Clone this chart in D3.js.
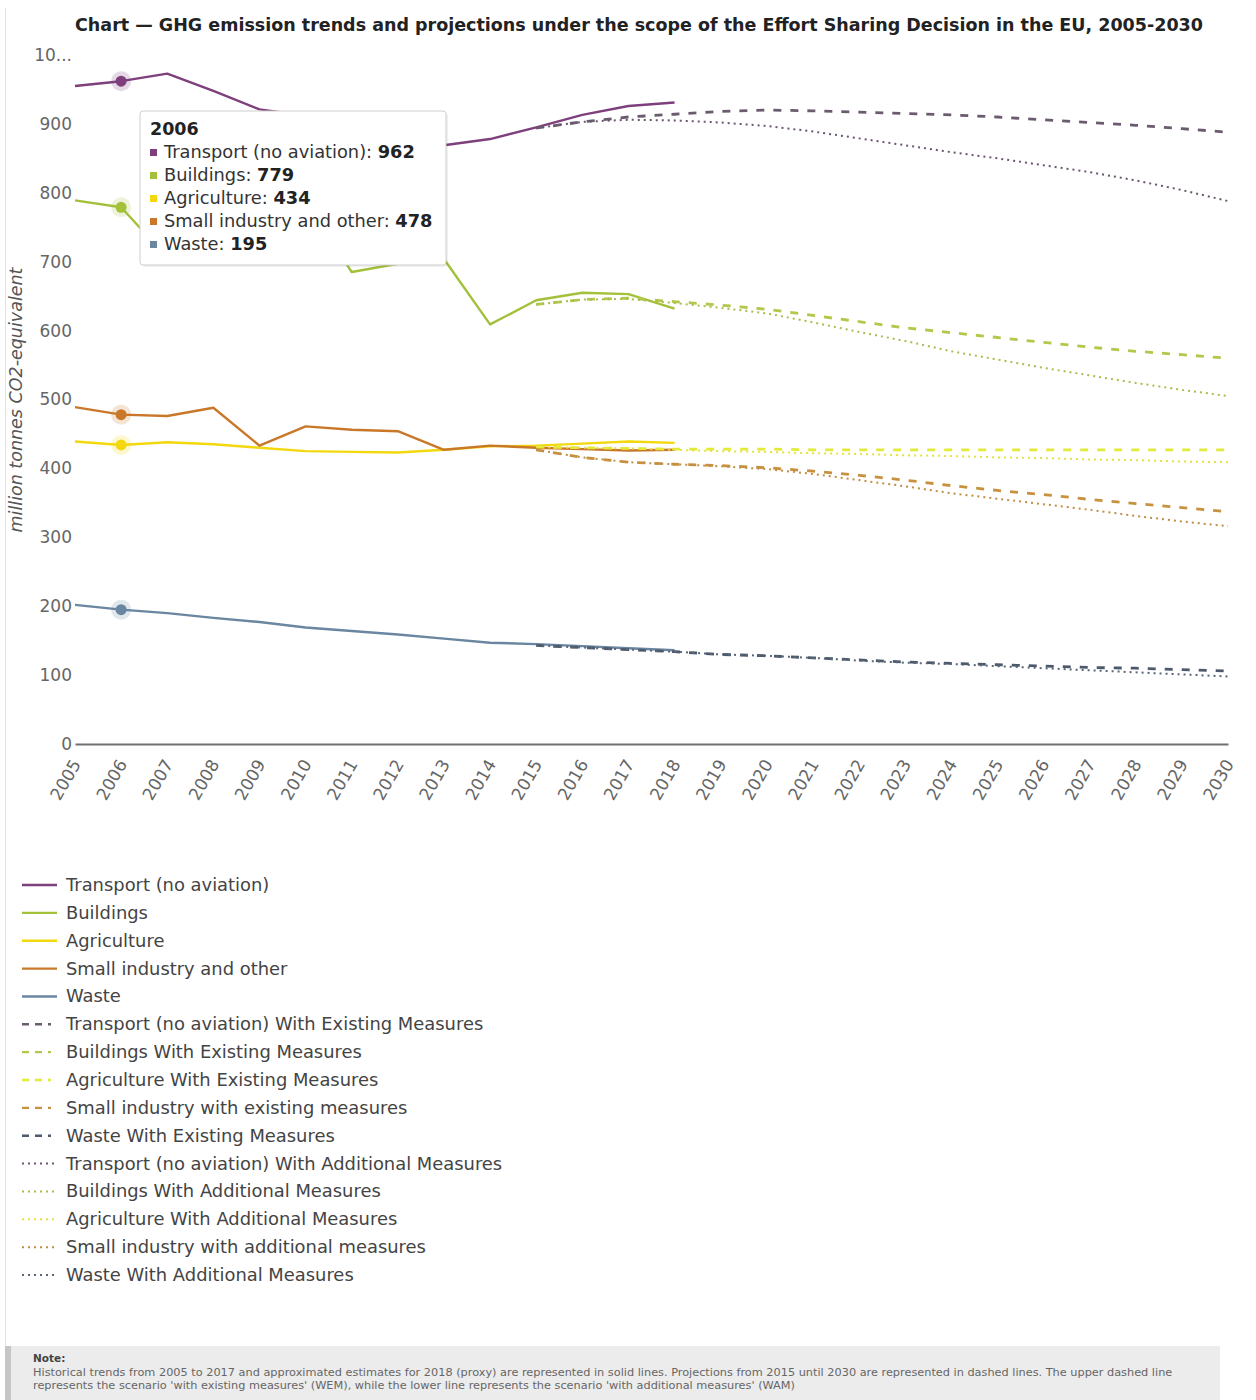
<!DOCTYPE html>
<html>
<head>
<meta charset="utf-8">
<script src="https://cdn.jsdelivr.net/npm/d3@7/dist/d3.min.js"></script>
<style>
  html, body { margin: 0; padding: 0; background: #fff; }
  svg { display: block; font-family: "DejaVu Sans", Verdana, sans-serif; }
</style>
</head>
<body>
<svg id="chart" width="1256" height="1400"></svg>
<script>
// ---------------- DATA ----------------
const title = "Chart \u2014 GHG emission trends and projections under the scope of the Effort Sharing Decision in the EU, 2005-2030";
const yAxisTitle = "million tonnes CO2-equivalent";
const years = d3.range(2005, 2031);
const histYears = d3.range(2005, 2019);
const projYears = d3.range(2015, 2031);
const yTickValues = [0, 100, 200, 300, 400, 500, 600, 700, 800, 900, 1000];
const yTickLabels = ["0", "100", "200", "300", "400", "500", "600", "700", "800", "900", "10..."];

// historical (2005-2018)
const transportHist   = [955, 962, 973, 948, 921, 912, 902, 880, 869, 878, 895, 913, 926, 931];
const buildingsHist   = [789, 779, 706, 735, 716, 785, 685, 697, 704, 609, 644, 655, 653, 632];
const agricultureHist = [439, 434, 438, 435, 430, 425, 424, 423, 427, 432, 433, 436, 439, 437];
const industryHist    = [489, 478, 476, 488, 433, 461, 456, 454, 427, 433, 430, 428, 426, 427];
const wasteHist       = [202, 195, 190, 183, 177, 169, 164, 159, 153, 147, 145, 142, 139, 136];

// With Existing Measures (2015-2030)
const transportWEM   = [894, 903, 910, 914, 918, 920, 919, 917, 915, 913, 910, 906, 902, 898, 893, 888];
const buildingsWEM   = [638, 645, 647, 642, 637, 631, 622, 613, 604, 597, 590, 583, 576, 570, 565, 560];
const agricultureWEM = [431, 430, 429, 428, 428, 428, 427, 427, 427, 427, 427, 427, 427, 427, 427, 427];
const industryWEM    = [427, 416, 409, 406, 404, 401, 396, 390, 383, 375, 368, 362, 355, 349, 343, 337];
const wasteWEM       = [143, 140, 137, 134, 130, 128, 125, 122, 119, 117, 115, 113, 111, 110, 108, 106];

// With Additional Measures (2015-2030)
const transportWAM   = [894, 903, 906, 905, 902, 897, 889, 879, 869, 859, 850, 840, 830, 818, 804, 788];
const buildingsWAM   = [638, 645, 646, 640, 633, 625, 612, 598, 585, 570, 558, 546, 535, 524, 514, 505];
const agricultureWAM = [431, 430, 429, 427, 425, 424, 422, 421, 419, 418, 416, 415, 413, 412, 410, 409];
const industryWAM    = [427, 416, 409, 406, 403, 399, 392, 383, 374, 364, 356, 348, 340, 331, 323, 316];
const wasteWAM       = [143, 140, 137, 134, 130, 128, 125, 121, 118, 116, 113, 110, 107, 104, 101, 98];

const histNames = ["Transport (no aviation)", "Buildings", "Agriculture", "Small industry and other", "Waste"];
const wemNames = ["Transport (no aviation) With Existing Measures", "Buildings With Existing Measures",
  "Agriculture With Existing Measures", "Small industry with existing measures", "Waste With Existing Measures"];
const wamNames = ["Transport (no aviation) With Additional Measures", "Buildings With Additional Measures",
  "Agriculture With Additional Measures", "Small industry with additional measures", "Waste With Additional Measures"];

const histColors = ["#7e3f7d", "#a3c03a", "#f2d80d", "#c9782a", "#6a86a0"];
const wemColors  = ["#6b5b6e", "#b1c84a", "#e2ea3a", "#c8913e", "#4c5a6b"];
const wamColors  = ["#6b5670", "#a9bd4e", "#e6e23a", "#c08e45", "#5a6678"];

const hoverYear = 2006;
const noteTitle = "Note:";
const noteLines = [
  "Historical trends from 2005 to 2017 and approximated estimates for 2018 (proxy) are represented in solid lines. Projections from 2015 until 2030 are represented in dashed lines. The upper dashed line",
  "represents the scenario 'with existing measures' (WEM), while the lower line represents the scenario 'with additional measures' (WAM)"
];

// ---------------- CHART ----------------
const histSeries = [transportHist, buildingsHist, agricultureHist, industryHist, wasteHist];
const wemSeries = [transportWEM, buildingsWEM, agricultureWEM, industryWEM, wasteWEM];
const wamSeries = [transportWAM, buildingsWAM, agricultureWAM, industryWAM, wasteWAM];

const svg = d3.select("#chart");
const plot = { left: 75, right: 1228, top: 55, bottom: 744 };

const x = d3.scaleLinear().domain([2005, 2030]).range([plot.left, plot.right]);
const y = d3.scaleLinear().domain([0, 1000]).range([plot.bottom, plot.top]);

// page card border
svg.append("line").attr("x1", 5.5).attr("x2", 5.5).attr("y1", 8).attr("y2", 1346)
  .attr("stroke", "#e2e2e2").attr("stroke-width", 1);

// title
svg.append("text").attr("x", 639).attr("y", 31).attr("text-anchor", "middle")
  .attr("font-weight", "bold").attr("font-size", 17.5).attr("fill", "#222").text(title);

// y axis
const yAxis = d3.axisLeft(y).tickValues(yTickValues)
  .tickFormat((d, i) => yTickLabels[i]).tickSize(0).tickPadding(3);
const gy = svg.append("g").attr("transform", `translate(${plot.left},0)`).call(yAxis);
gy.select(".domain").remove();
gy.selectAll("text").attr("font-size", 17).attr("fill", "#666")
  .attr("font-family", "DejaVu Sans, Verdana, sans-serif");

// y axis title
svg.append("text").attr("transform", `translate(22,400) rotate(-90)`).attr("text-anchor", "middle")
  .attr("font-style", "italic").attr("font-size", 17.5).attr("fill", "#555").text(yAxisTitle);

// x axis
const xAxis = d3.axisBottom(x).tickValues(years).tickFormat(d3.format("d")).tickSize(0);
const gx = svg.append("g").attr("transform", `translate(0,${plot.bottom})`).call(xAxis);
gx.select(".domain").attr("stroke", "#707070").attr("stroke-width", 2);
gx.selectAll("text").attr("font-size", 17).attr("fill", "#666")
  .attr("font-family", "DejaVu Sans, Verdana, sans-serif")
  .attr("text-anchor", "end").attr("dy", null).attr("y", null)
  .attr("transform", "translate(6,20) rotate(-60)");

// lines
const line = (yrs) => d3.line().x((d, i) => x(yrs[i])).y(d => y(d));
const gLines = svg.append("g");
histSeries.forEach((s, i) => {
  gLines.append("path").attr("d", line(histYears)(s)).attr("fill", "none")
    .attr("stroke", histColors[i]).attr("stroke-width", 2.4).attr("stroke-linejoin", "round");
});
wemSeries.forEach((s, i) => {
  gLines.append("path").attr("d", line(projYears)(s)).attr("fill", "none")
    .attr("stroke", wemColors[i]).attr("stroke-width", 2.8).attr("stroke-dasharray", "8,9");
});
wamSeries.forEach((s, i) => {
  gLines.append("path").attr("d", line(projYears)(s)).attr("fill", "none")
    .attr("stroke", wamColors[i]).attr("stroke-width", 2).attr("stroke-dasharray", "2,4");
});

// hover markers
const hi = histYears.indexOf(hoverYear);
histSeries.forEach((s, i) => {
  svg.append("circle").attr("cx", x(hoverYear)).attr("cy", y(s[hi])).attr("r", 10)
    .attr("fill", histColors[i]).attr("opacity", 0.2);
  svg.append("circle").attr("cx", x(hoverYear)).attr("cy", y(s[hi])).attr("r", 5.5)
    .attr("fill", histColors[i]);
});

// tooltip
const tt = svg.append("g").attr("transform", "translate(140,111)");
tt.append("rect").attr("x", 2).attr("y", 2).attr("width", 306).attr("height", 154).attr("rx", 3)
  .attr("fill", "#000").attr("opacity", 0.06);
tt.append("rect").attr("x", 0).attr("y", 0).attr("width", 306).attr("height", 154).attr("rx", 3)
  .attr("fill", "#fff").attr("stroke", "#cfcfcf").attr("stroke-width", 1);
tt.append("text").attr("x", 10).attr("y", 24).attr("font-weight", "bold").attr("font-size", 17.5)
  .attr("fill", "#222").text(hoverYear);
histNames.forEach((n, i) => {
  const yy = 47 + i * 23;
  tt.append("rect").attr("x", 10).attr("y", yy - 9).attr("width", 7).attr("height", 7).attr("fill", histColors[i]);
  const t = tt.append("text").attr("x", 24).attr("y", yy).attr("font-size", 17.8).attr("fill", "#333");
  t.append("tspan").text(n + ": ");
  t.append("tspan").attr("font-weight", "bold").attr("fill", "#222").text(histSeries[i][hi]);
});

// legend
const legendItems = [];
histNames.forEach((n, i) => legendItems.push({ name: n, color: histColors[i], dash: null, len: 35, w: 2.4 }));
wemNames.forEach((n, i) => legendItems.push({ name: n, color: wemColors[i], dash: "7,6", len: 29, w: 2.4 }));
wamNames.forEach((n, i) => legendItems.push({ name: n, color: wamColors[i], dash: "2,4", len: 36, w: 2 }));
const lg = svg.append("g");
legendItems.forEach((it, i) => {
  const yy = 885 + i * 27.86;
  lg.append("line").attr("x1", 22).attr("x2", 22 + it.len).attr("y1", yy).attr("y2", yy)
    .attr("stroke", it.color).attr("stroke-width", it.w).attr("stroke-dasharray", it.dash);
  lg.append("text").attr("x", 66).attr("y", yy + 6).attr("font-size", 17.9).attr("fill", "#444").text(it.name);
});

// note box
svg.append("rect").attr("x", 5).attr("y", 1346).attr("width", 1215).attr("height", 54).attr("fill", "#ececec");
svg.append("rect").attr("x", 5).attr("y", 1346).attr("width", 6).attr("height", 54).attr("fill", "#c6c6c6");
svg.append("text").attr("x", 33).attr("y", 1362).attr("font-size", 10.5).attr("font-weight", "bold")
  .attr("fill", "#444").text(noteTitle);
noteLines.forEach((l, i) => {
  svg.append("text").attr("x", 33).attr("y", 1376 + i * 13).attr("font-size", 11.3).attr("fill", "#666").text(l);
});
</script>
</body>
</html>
